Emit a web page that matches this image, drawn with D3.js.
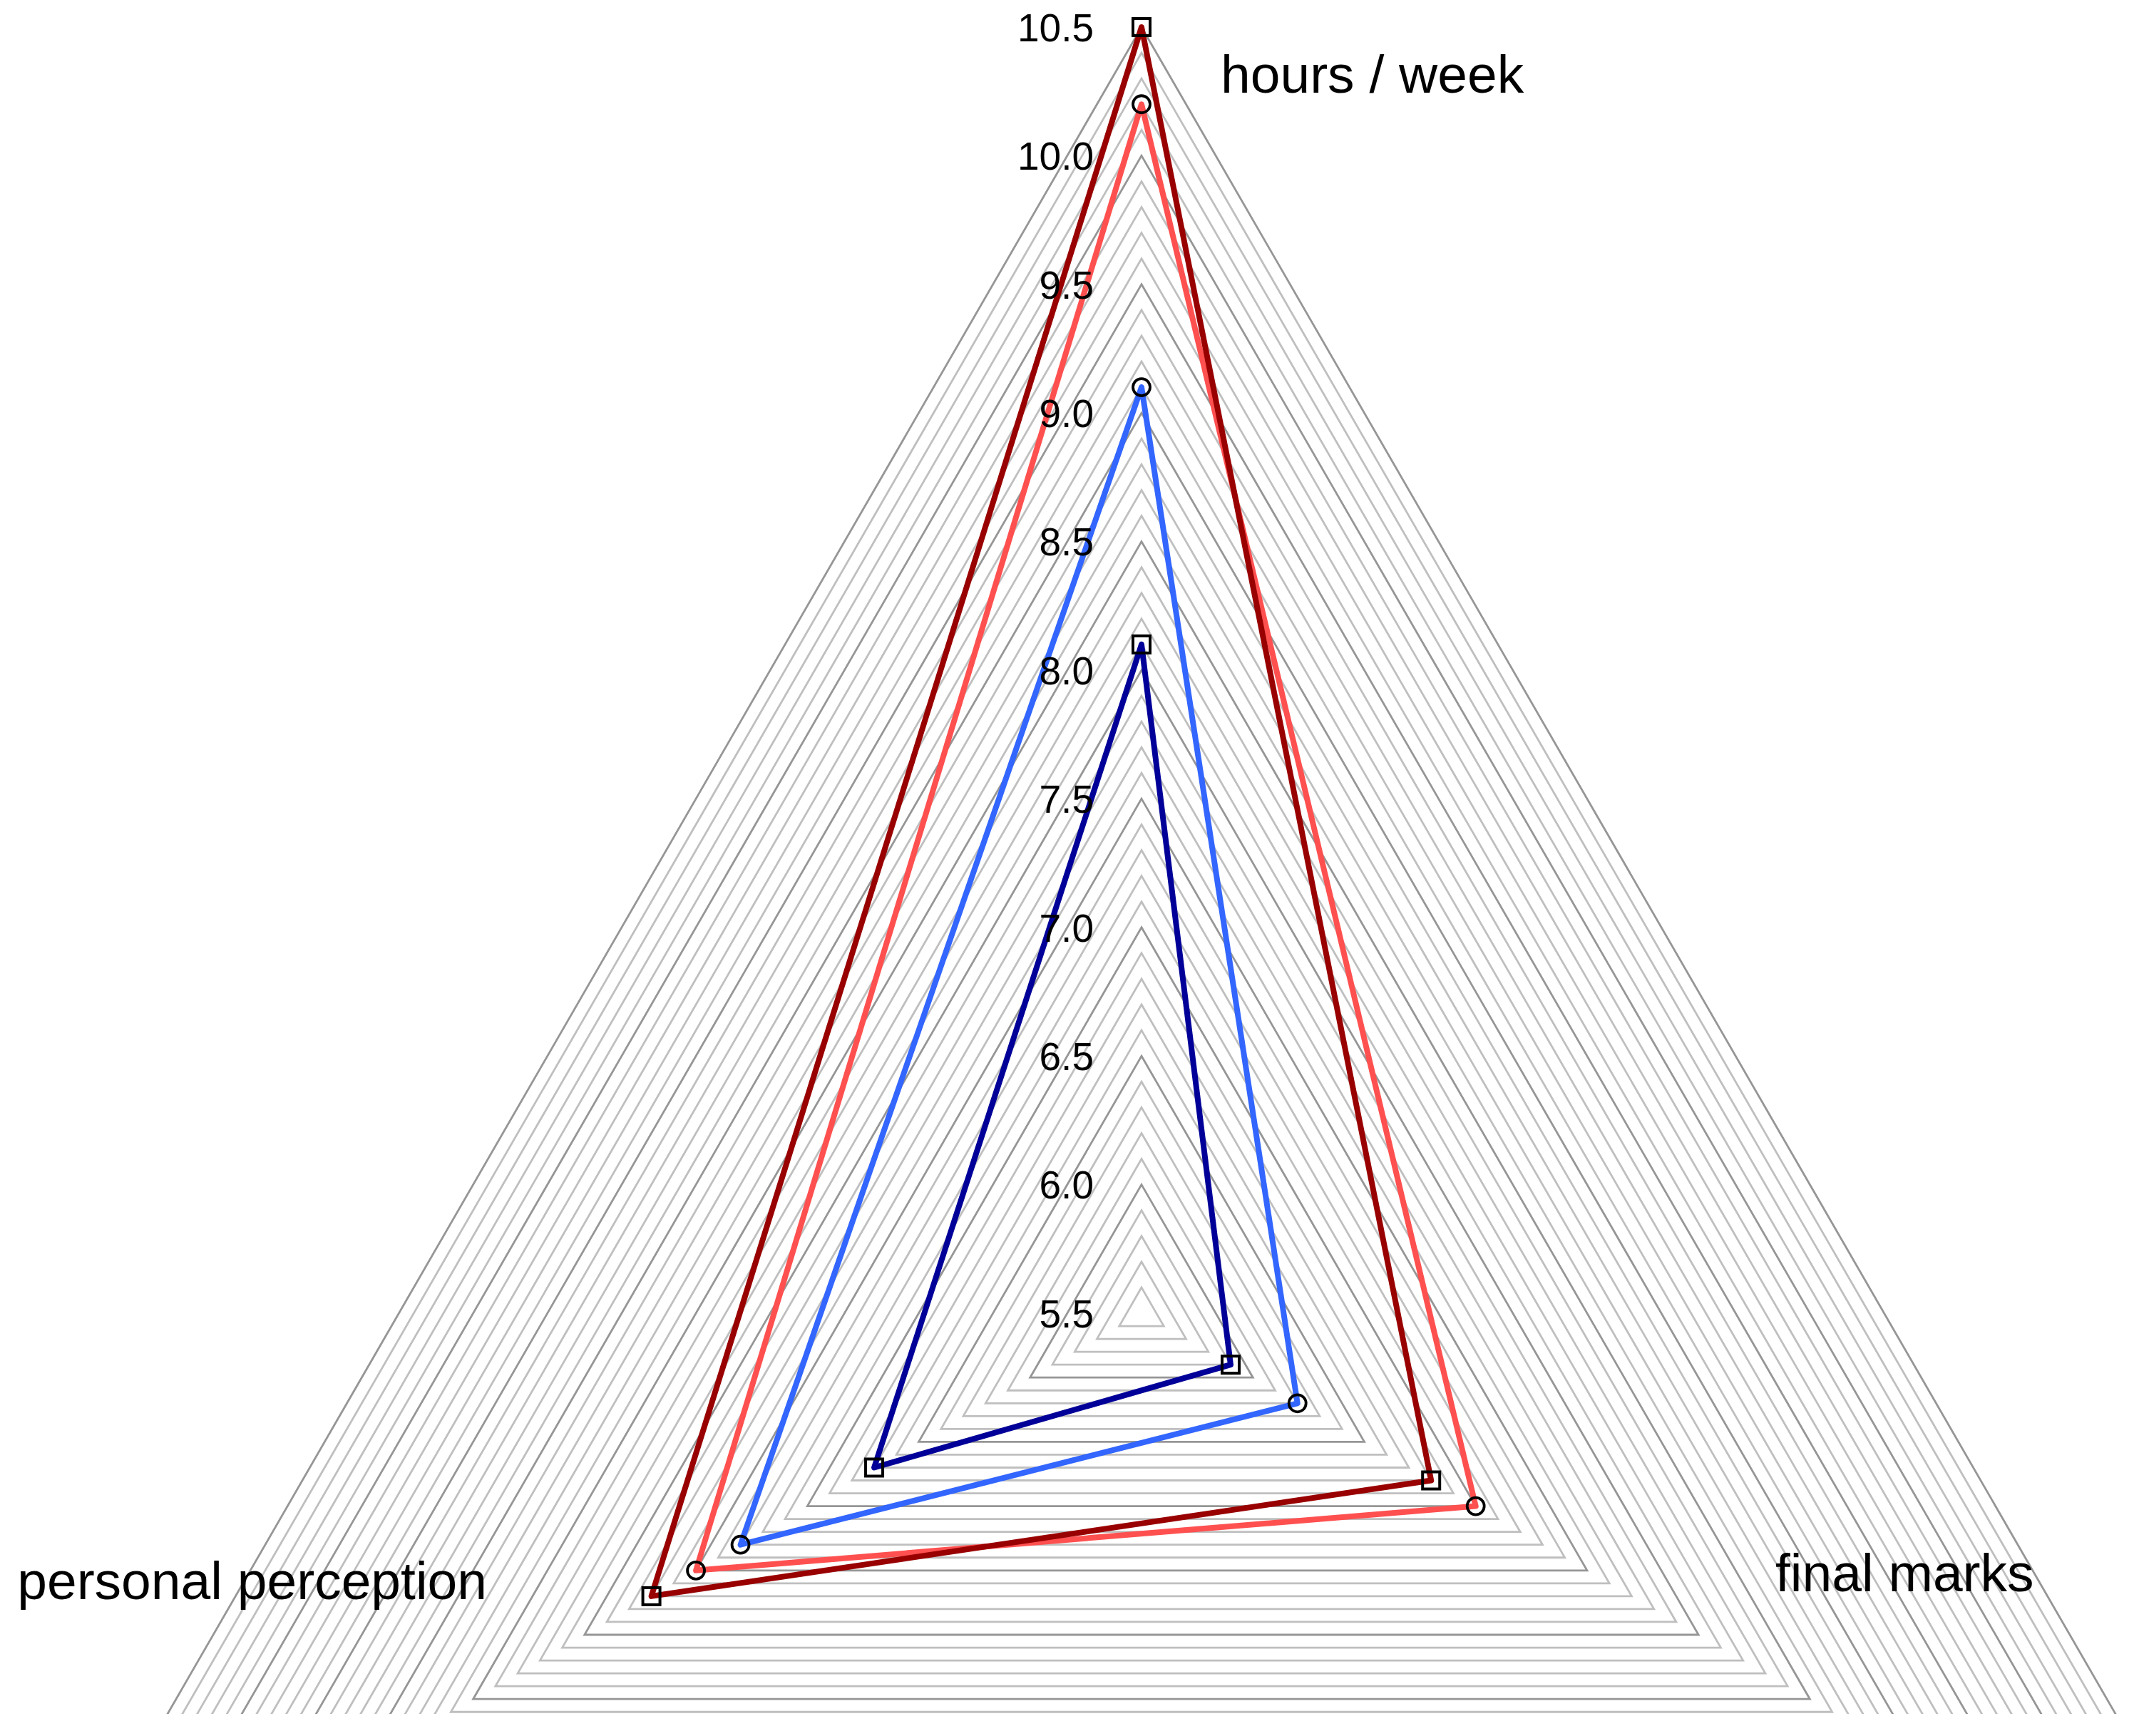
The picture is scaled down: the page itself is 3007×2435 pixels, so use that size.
<!DOCTYPE html>
<html>
<head>
<meta charset="utf-8">
<script src="https://cdn.jsdelivr.net/npm/d3@7"></script>
<style>
  html, body { margin: 0; padding: 0; background: white; }
  svg { display: block; }
</style>
</head>
<body>
<div id="radar"></div>
<script>
// Data
var axisNames = ['hours / week', 'final marks', 'personal perception']
var seriesNames = ['group 1', 'group 2', 'group 3', 'group 4']
var seriesValues = [
  [8.1, 5.9, 6.7],
  [9.1, 6.2, 7.3],
  [10.2, 7.0, 7.5],
  [10.5, 6.8, 7.7]
]
var seriesColors = ['#000099', '#3366ff', '#ff5050', '#990000']
var seriesShapes = ['square', 'circle', 'circle', 'square']
var tickLabels = ['5.5', '6.0', '6.5', '7.0', '7.5', '8.0', '8.5', '9.0', '9.5', '10.0', '10.5']

// Basic variables
var radar = {
  width: 3007,
  height: 2435,
  cx: 1601,
  cy: 1842,
  outer: 1804,
  clipBottom: 2404
}

radar.svg = d3.select('#radar')
  .append('svg')
  .attr('width', radar.width)
  .attr('height', radar.height)
  .style('background-color', 'white')

radar.rScale = d3.scaleLinear()
  .domain([+tickLabels[0], +tickLabels[tickLabels.length - 1]])
  .range([0, radar.outer])

// angle of each axis, top first then clockwise
radar.angle = d3.scaleLinear()
  .domain([0, axisNames.length])
  .range([-Math.PI / 2, Math.PI * 1.5])

function point(i, v) {
  let a = radar.angle(i)
  let r = radar.rScale(v)
  return [radar.cx + r * Math.cos(a), radar.cy + r * Math.sin(a)]
}

radar.svg.append('clipPath')
  .attr('id', 'panel')
  .append('rect')
  .attr('x', 0)
  .attr('y', 0)
  .attr('width', radar.width)
  .attr('height', radar.clipBottom)

let plot = radar.svg.append('g').attr('clip-path', 'url(#panel)')

// Grid triangles, one every 0.1, darker every 0.5
let gridLevels = radar.rScale.ticks(50).filter(d => d > radar.rScale.domain()[0])
let line = d3.line()

plot.selectAll('path.grid')
  .data(gridLevels)
  .enter()
  .append('path')
  .attr('class', 'grid')
  .attr('d', v => line(axisNames.map((n, i) => point(i, v))) + 'Z')
  .attr('fill', 'none')
  .attr('stroke', v => Math.abs(v * 2 - Math.round(v * 2)) < 1e-6 ? '#969696' : '#bfbfbf')
  .attr('stroke-width', 2.8)
  .attr('stroke-linejoin', 'miter')

// Tick labels along the top axis
radar.svg.selectAll('text.tick')
  .data(tickLabels)
  .enter()
  .append('text')
  .attr('class', 'tick')
  .attr('x', radar.cx - 67)
  .attr('y', d => point(0, +d)[1])
  .attr('dy', '0.36em')
  .attr('text-anchor', 'end')
  .style('font-family', '"Liberation Sans", Arial, sans-serif')
  .style('font-size', '55px')
  .attr('fill', 'black')
  .text(d => d)

// Axis names
let labelPos = [
  { x: 1712, y: 130, anchor: 'start' },
  { x: 2490, y: 2232, anchor: 'start' },
  { x: 683, y: 2243, anchor: 'end' }
]
radar.svg.selectAll('text.axis-name')
  .data(axisNames)
  .enter()
  .append('text')
  .attr('class', 'axis-name')
  .attr('x', (d, i) => labelPos[i].x)
  .attr('y', (d, i) => labelPos[i].y)
  .attr('text-anchor', (d, i) => labelPos[i].anchor)
  .style('font-family', '"Liberation Sans", Arial, sans-serif')
  .style('font-size', '75px')
  .attr('fill', 'black')
  .text(d => d)

// Series
seriesValues.forEach(function (values, s) {
  let pts = values.map((v, i) => point(i, v))
  let g = plot.append('g').attr('class', 'series').attr('data-name', seriesNames[s])

  g.append('path')
    .attr('d', line(pts) + 'Z')
    .attr('fill', 'none')
    .attr('stroke', seriesColors[s])
    .attr('stroke-width', 8)
    .attr('stroke-linejoin', 'round')

  if (seriesShapes[s] === 'square') {
    g.selectAll('rect')
      .data(pts)
      .enter()
      .append('rect')
      .attr('x', d => d[0] - 12)
      .attr('y', d => d[1] - 12)
      .attr('width', 24)
      .attr('height', 24)
      .attr('fill', 'none')
      .attr('stroke', 'black')
      .attr('stroke-width', 4)
  } else {
    g.selectAll('circle')
      .data(pts)
      .enter()
      .append('circle')
      .attr('cx', d => d[0])
      .attr('cy', d => d[1])
      .attr('r', 12)
      .attr('fill', 'none')
      .attr('stroke', 'black')
      .attr('stroke-width', 3.8)
  }
})
</script>
</body>
</html>
